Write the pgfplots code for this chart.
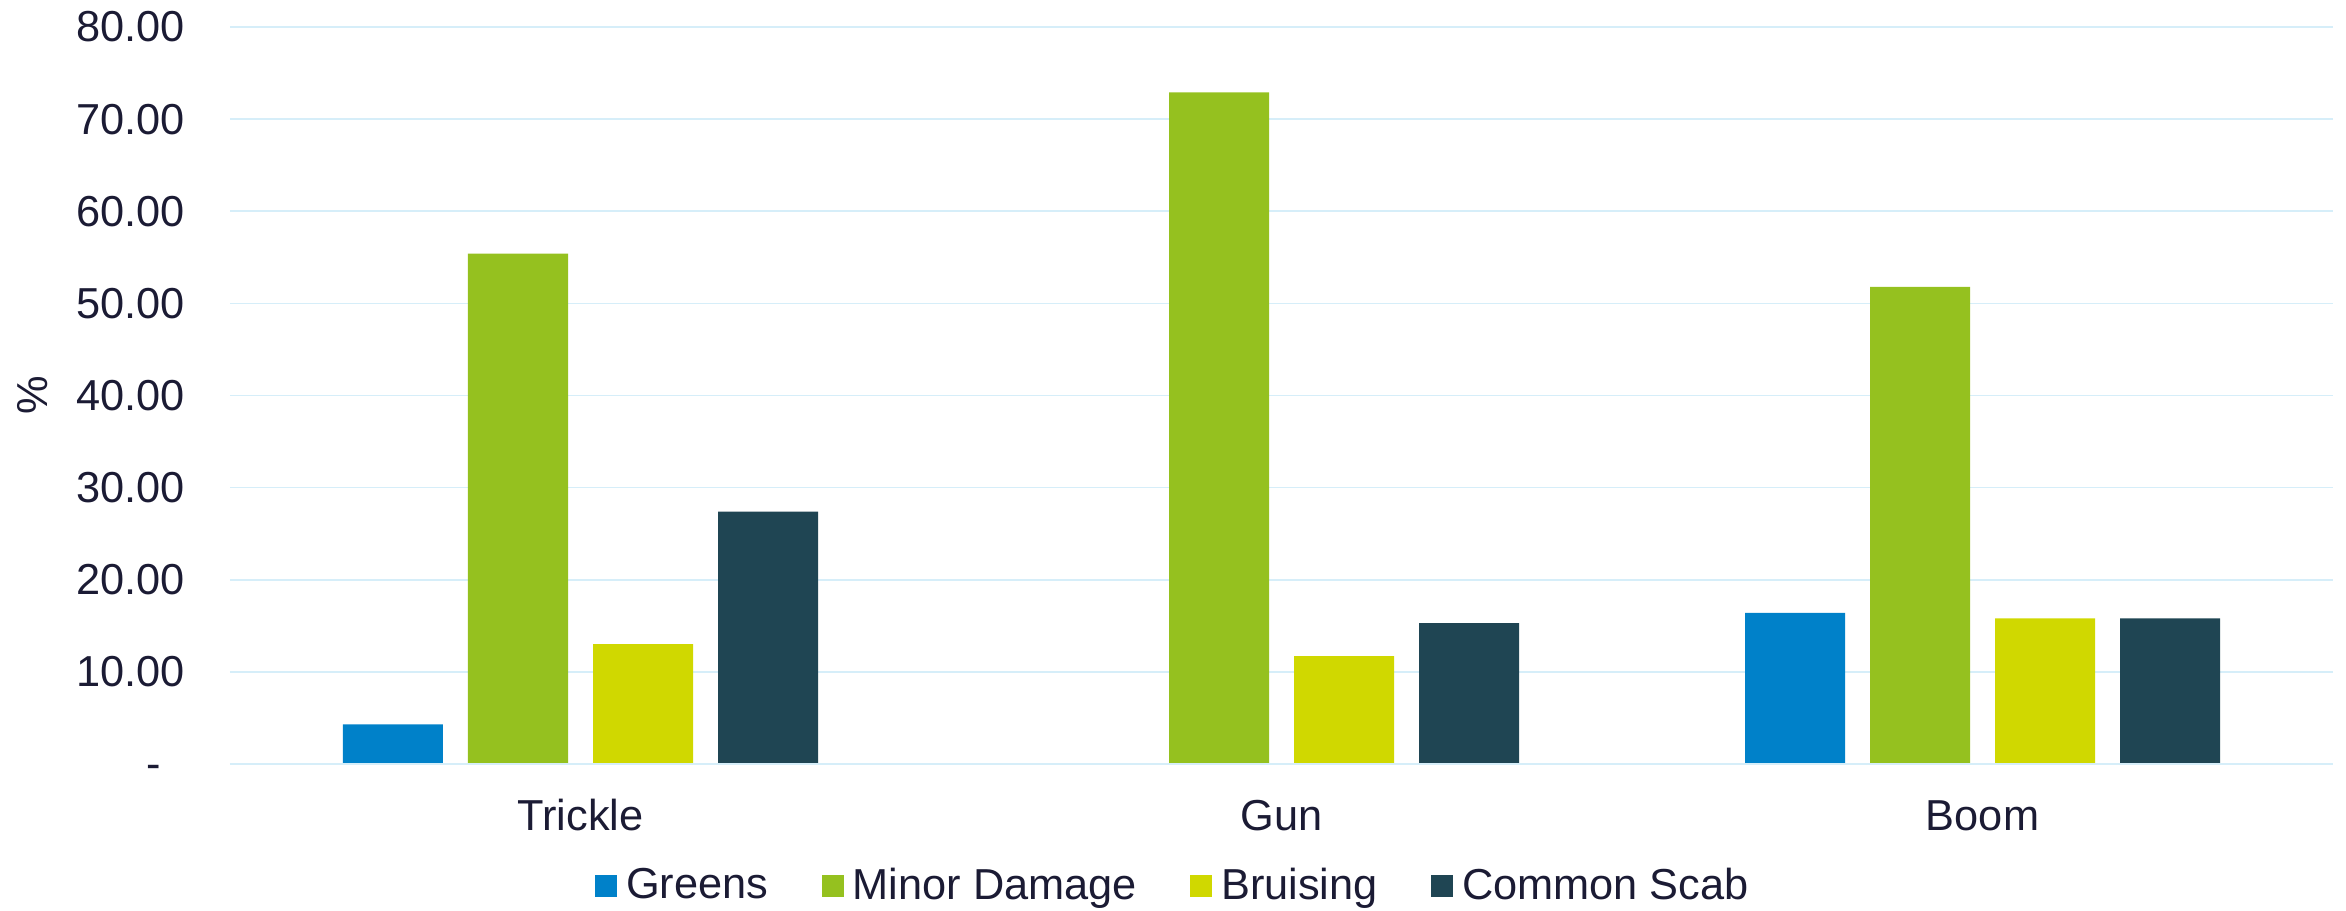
\documentclass[border=0pt]{standalone}
\usepackage{pgfplots}
\pgfplotsset{compat=1.18}
\usepackage{fontspec}
\setmainfont{Liberation Sans}

\definecolor{cGreens}{RGB}{0,129,201}
\definecolor{cMinor}{RGB}{149,193,31}
\definecolor{cBruise}{RGB}{208,216,0}
\definecolor{cScab}{RGB}{31,69,83}
\definecolor{cGrid}{RGB}{214,238,249}
\definecolor{cText}{RGB}{27,27,52}

% 1 px of the reference = 0.3pt
\begin{document}
\begin{tikzpicture}[font=\fontsize{13}{15.6}\selectfont, text=cText]
\begin{axis}[
    at={(0,0)}, anchor=south west,
    scale only axis,
    width=630.9pt, height=221.1pt,
    xmin=-0.5, xmax=2.5,
    ymin=0, ymax=80,
    xtick={0,1,2},
    xticklabels={Trickle, Gun, Boom},
    ytick={0,10,...,80},
    yticklabels={-\phantom{0}, 10.00, 20.00, 30.00, 40.00, 50.00, 60.00, 70.00, 80.00},
    major tick length=0pt,
    axis line style={draw=none},
    ymajorgrids,
    grid style={cGrid, line width=0.5pt},
    xticklabel style={anchor=base, yshift=-19.8pt},
    yticklabel style={anchor=east, xshift=-10pt},
    ylabel={\%},
    ylabel style={at={(axis description cs:0,0.5)}, anchor=center, yshift=59.1pt},
    ybar, bar width=30pt,
    legend columns=-1,
    legend style={at={(axis description cs:0.4495,0)}, anchor=center, yshift=-36.6pt,
        draw=none, fill=none, inner sep=0pt,
        /tikz/every even column/.append style={column sep=14pt}},
    legend image code/.code={\fill[#1] (0pt,-3.3pt) rectangle (6.6pt,3.3pt); \path (7.3pt,0pt);},
]
\addplot[fill=cGreens, draw=none, bar shift=-56.25pt] coordinates {(0,4.3) (1,0) (2,16.4)};
\addplot[fill=cMinor, draw=none, bar shift=-18.75pt] coordinates {(0,55.4) (1,72.9) (2,51.8)};
\addplot[fill=cBruise, draw=none, bar shift=18.75pt] coordinates {(0,13.0) (1,11.7) (2,15.8)};
\addplot[fill=cScab, draw=none, bar shift=56.25pt] coordinates {(0,27.4) (1,15.3) (2,15.8)};
\legend{Greens, Minor Damage, Bruising, Common Scab}
\draw[cGrid, line width=0.6pt] (axis cs:-0.5,0) -- (axis cs:2.5,0);
\end{axis}
\pgfresetboundingbox
\useasboundingbox (-69pt,-43.8pt) rectangle (634.8pt,229.2pt);
\end{tikzpicture}
\end{document}
